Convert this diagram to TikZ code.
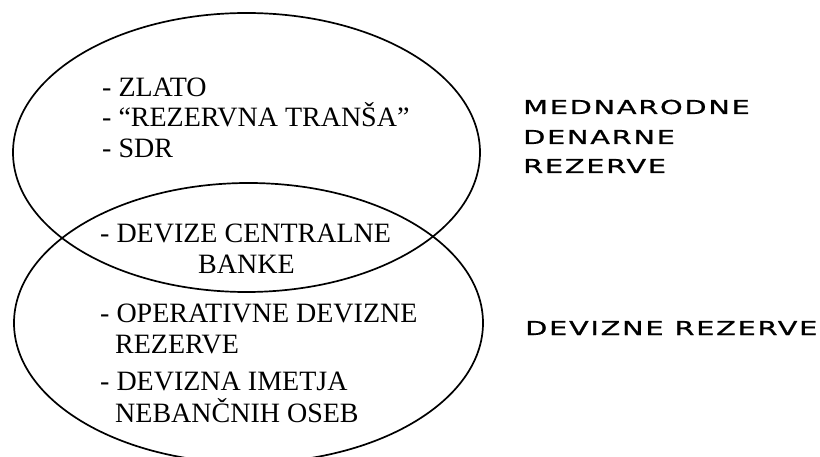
\documentclass[tikz,border=0pt]{standalone}
\usepackage{fontspec}
\setmainfont{Liberation Serif}
\newfontfamily\widefont[LetterSpace=6,FakeBold=0.8]{DejaVu Sans}
\newcommand{\widetext}[1]{\scalebox{1.5}[1]{\widefont\fontsize{19.2}{21}\selectfont #1}}
\begin{document}
\begin{tikzpicture}[x=1pt,y=-1pt,
  ring/.style={draw=black,line width=1.7pt},
  item/.style={anchor=base west,inner sep=0pt,font=\fontsize{28}{30}\selectfont},
  tag/.style={anchor=base west,inner sep=0pt}]
\useasboundingbox (0,0) rectangle (820,457);
\draw[ring] (246.5,152.5) ellipse [x radius=233.5, y radius=139.5];
\draw[ring] (248.5,323) ellipse [x radius=234.5, y radius=140];
\node[item] (z) at (102,97) {- ZLATO};
\node[item] (t) at (102,127) {- “REZERVNA TRANŠA”};
\node[item] (s) at (102,158) {- SDR};
\node[item] (d1) at (100,243) {- DEVIZE CENTRALNE};
\node[item] (d2) at (198,274) {BANKE};
\node[item] (o1) at (100,323) {- OPERATIVNE DEVIZNE};
\node[item] (o2) at (115,353) {REZERVE};
\node[item] (i1) at (100,390) {- DEVIZNA IMETJA};
\node[item] (i2) at (115,422) {NEBANČNIH OSEB};
\node[tag] (m1) at (523,114) {\widetext{MEDNARODNE}};
\node[tag] (m2) at (523,144) {\widetext{DENARNE}};
\node[tag] (m3) at (523,173) {\widetext{REZERVE}};
\node[tag] (dr) at (525,335) {\widetext{DEVIZNE REZERVE}};
\end{tikzpicture}
\end{document}
